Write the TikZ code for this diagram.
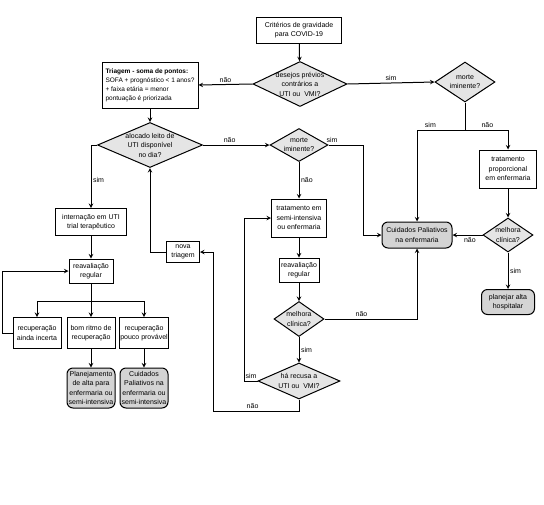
\documentclass[tikz,border=0pt]{standalone}
\usepackage{fontspec}
\setmainfont{Liberation Sans}
\usetikzlibrary{arrows}
\usetikzlibrary{shapes.geometric}
\newcommand{\covidfont}{\linespread{1}\fontsize{7}{9.5}\selectfont}
\newcommand{\covidsmallfont}{\linespread{1}\fontsize{6.5}{9}\selectfont}
\tikzset{
    covid/chart/.style={font=\covidfont, every node/.style={align=center}, x=1pt, y=-1pt},
    covid/process/.style={rectangle, draw=black, fill=white, line width=1pt, inner sep=1pt},
    covid/triage/.style={covid/process, font=\covidsmallfont, align=left, inner sep=2pt},
    covid/decision/.style={diamond, aspect=2, draw=black, fill=black!10, line width=1pt, inner sep=-5pt},
    covid/terminal/.style={rectangle, rounded corners=6pt, draw=black, fill=black!17, line width=1pt, inner sep=1pt},
    covid/arrow/.style={->, >=stealth, line width=1pt, draw=black},
    covid/line/.style={line width=1pt, draw=black},
    covid/label/.style={font=\covidfont, inner sep=1.5pt}
}
\begin{document}
\begin{tikzpicture}[covid/chart]
    \useasboundingbox (0,0) rectangle (544,504);
    \node[covid/process, minimum width=85pt, minimum height=26pt] (criterios) at (299,30) {Critérios de gravidade\\para COVID-19};
    \node[covid/decision, minimum width=94pt, minimum height=45pt] (desejos) at (300,84) {desejos prévios\\contrários a\\UTI ou\ \ VMI?};
    \node[covid/triage, minimum width=96pt, minimum height=46pt] (triagem) at (150,85) {\textbf{Triagem - soma de pontos:}\\SOFA + prognóstico < 1 anos?\\+ faixa etária = menor\\pontuação é priorizada};
    \node[covid/decision, minimum width=60pt, minimum height=40pt] (morteA) at (465,82) {morte\\iminente?};
    \node[covid/decision, minimum width=105pt, minimum height=45pt] (alocado) at (150,145) {alocado leito de\\UTI disponível\\no dia?};
    \node[covid/decision, minimum width=58pt, minimum height=33pt] (morteB) at (299,145) {morte\\iminente?};
    \node[covid/process, minimum width=71pt, minimum height=27pt] (internacao) at (91,222) {internação em UTI\\trial terapêutico};
    \node[covid/process, minimum width=44pt, minimum height=24pt] (reavUTI) at (91,271) {reavaliação\\regular};
    \node[covid/process, minimum width=48pt, minimum height=31pt] (incerta) at (37,333) {recuperação\\ainda incerta};
    \node[covid/process, minimum width=48pt, minimum height=31pt] (bomritmo) at (91,333) {bom ritmo de\\recuperação};
    \node[covid/process, minimum width=48pt, minimum height=31pt] (improvavel) at (144,333) {recuperação\\pouco provável};
    \node[covid/terminal, minimum width=48pt, minimum height=40pt] (altaUTI) at (91,388) {Planejamento\\de alta para\\enfermaria ou\\semi-intensiva};
    \node[covid/terminal, minimum width=48pt, minimum height=40pt] (paliativosUTI) at (144,388) {Cuidados\\Paliativos na\\enfermaria ou\\semi-intensiva};
    \node[covid/process, minimum width=33pt, minimum height=21pt] (novatriagem) at (183,252) {nova\\triagem};
    \node[covid/process, minimum width=55pt, minimum height=38pt] (tratamento) at (299,218) {tratamento em\\semi-intensiva\\ou enfermaria};
    \node[covid/process, minimum width=40pt, minimum height=24pt] (reavEnf) at (299,270) {reavaliação\\regular};
    \node[covid/decision, minimum width=50pt, minimum height=35pt] (melhoraEnf) at (299,319) {melhora\\clínica?};
    \node[covid/decision, minimum width=82pt, minimum height=36pt] (recusa) at (299,381) {há recusa a\\UTI ou\ \ VMI?};
    \node[covid/terminal, minimum width=70pt, minimum height=26pt] (paliativos) at (417,235) {Cuidados Paliativos\\na enfermaria};
    \node[covid/process, minimum width=57pt, minimum height=38pt] (proporcional) at (508,169) {tratamento\\proporcional\\em enfermaria};
    \node[covid/decision, minimum width=50pt, minimum height=34pt] (melhoraProp) at (508,235) {melhora\\clínica?};
    \node[covid/terminal, minimum width=53pt, minimum height=25pt] (altaHosp) at (508,302) {planejar alta\\hospitalar};
    \coordinate (splitUTI) at (91,301);
    \coordinate (splitMorte) at (465,130);
    \coordinate (voltaNova) at (213,411);
    \foreach \source/\target in {criterios/desejos,triagem/alocado,internacao/reavUTI,reavUTI/bomritmo,bomritmo/altaUTI,improvavel/paliativosUTI,tratamento/reavEnf,reavEnf/melhoraEnf,proporcional/melhoraProp}
        \draw[covid/arrow] (\source) -- (\target);
    \draw[covid/arrow] (desejos.west) -- node[covid/label,above] {não} (triagem.east);
    \draw[covid/arrow] (desejos.east) -- node[covid/label,above] {sim} (morteA.west);
    \draw[covid/arrow] (alocado.east) -- node[covid/label,above,pos=0.4] {não} (morteB.west);
    \draw[covid/arrow] (alocado.west) -| node[covid/label,right,pos=0.78] {sim} (internacao.north);
    \draw[covid/arrow] (splitUTI) -| (incerta.north);
    \draw[covid/arrow] (splitUTI) -| (improvavel.north);
    \draw[covid/arrow] (incerta.west) -- ++(-10,0) |- (reavUTI.west);
    \draw[covid/arrow] (morteB) -- node[covid/label,right] {não} (tratamento);
    \draw[covid/arrow] (morteB.east) -- node[covid/label,above,pos=0.1] {sim} ++(35,0) |- (paliativos.west);
    \draw[covid/line] (morteA.south) -- (splitMorte);
    \draw[covid/arrow] (splitMorte) -| node[covid/label,above,pos=0.36] {sim} (paliativos.north);
    \draw[covid/arrow] (splitMorte) -| node[covid/label,above,pos=0.26] {não} (proporcional.north);
    \draw[covid/arrow] (melhoraProp.west) -- node[covid/label,below,pos=0.42] {não} (paliativos.east);
    \draw[covid/arrow] (melhoraProp) -- node[covid/label,right] {sim} (altaHosp);
    \draw[covid/arrow] (melhoraEnf.east) -| node[covid/label,above,pos=0.2] {não} (paliativos.south);
    \draw[covid/arrow] (melhoraEnf) -- node[covid/label,right] {sim} (recusa);
    \draw[covid/arrow] (recusa.west) -- node[covid/label,above] {sim} ++(-13,0) |- (tratamento.west);
    \draw[covid/arrow] (recusa.south) |- node[covid/label,above,pos=0.77] {não} (voltaNova) |- (novatriagem.east);
    \draw[covid/arrow] (novatriagem.west) -| (alocado.south);
\end{tikzpicture}
\end{document}
